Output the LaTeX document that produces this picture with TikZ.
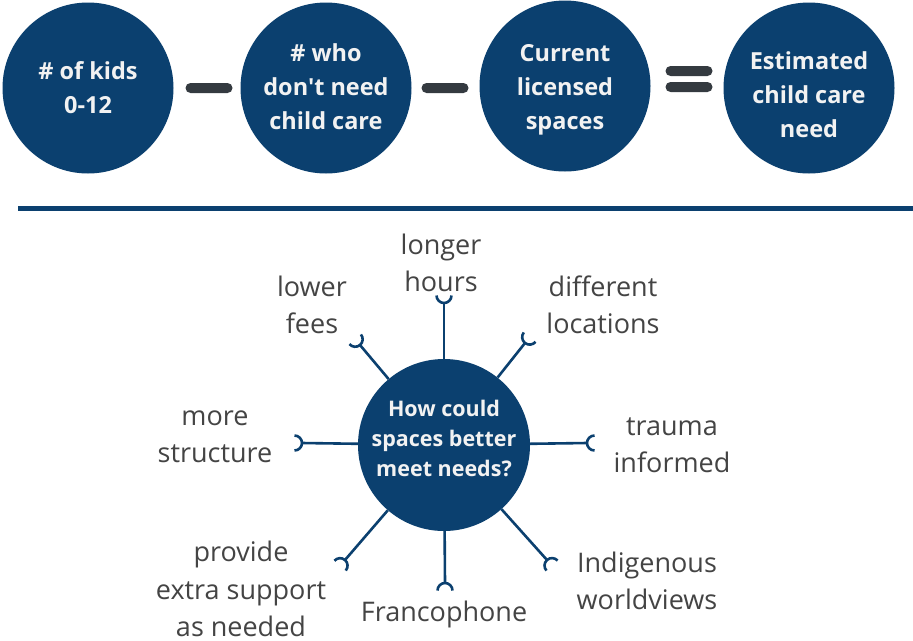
\documentclass[tikz,border=0pt]{standalone}
\usepackage{fontspec}
\newfontfamily\osans{Open Sans}
\setmainfont{Open Sans}
\usetikzlibrary{calc}
\definecolor{navy}{HTML}{0B406F}
\definecolor{opgray}{HTML}{343A40}
\definecolor{labgray}{HTML}{444444}
\definecolor{wtext}{HTML}{F2F2F2}
\tikzset{
  bigcircle/.style={circle, fill=navy, minimum size=171pt, inner sep=0pt},
  bigtext/.style={text=wtext, align=center, inner sep=0pt,
    font=\osans\fontsize{23.5}{34}\selectfont\bfseries},
  centercircle/.style={circle, fill=navy, minimum size=172pt, inner sep=0pt},
  centertext/.style={text=wtext, align=center, inner sep=0pt,
    font=\osans\fontsize{21.5}{30}\selectfont\bfseries},
  opbar/.style={rectangle, fill=opgray, minimum width=47pt, minimum height=10pt, inner sep=0pt, rounded corners=5pt},
  lab/.style={align=center, text=labgray, inner sep=0pt, font=\osans\fontsize{27}{37.5}\selectfont},
  spoke/.style={draw=navy, line width=2.6pt},
  cup/.pic={\draw[spoke] (7.5pt,7.5pt) arc[start angle=90,end angle=270,radius=7.5pt];}
}
\begin{document}
\begin{tikzpicture}[x=1pt,y=1pt]
\path[use as bounding box, fill=white] (0,0) rectangle (913,-640);
% top equation
\node[bigcircle] (c1) at (88,-88) {};
\node[bigcircle] (c2) at (326,-88) {};
\node[bigcircle] (c3) at (565,-86) {};
\node[bigcircle] (c4) at (809,-88) {};
\node[bigtext] (t1) at (c1.center) {\# of kids\\0-12};
\node[bigtext] (t2) at ([yshift=1pt]c2.center) {\# who\\don't need\\child care};
\node[bigtext] (t3) at ([yshift=-4pt]c3.center) {Current\\licensed\\spaces};
\node[bigtext] (t4) at ([yshift=-7pt]c4.center) {Estimated\\child care\\need};
\node[opbar] (m1) at (209,-88) {};
\node[opbar] (m2) at (445,-88) {};
\node[opbar] (eq1) at (689,-71) {};
\node[opbar] (eq2) at (689,-87) {};
% divider
\draw[navy, line width=5pt] (18,-208) -- (913,-208);
% center
\node[centercircle] (q) at (444,-445) {};
\node[centertext] (qt) at (444,-438) {How could\\spaces better\\meet needs?};
\coordinate (eT) at (444,-303);
\coordinate (eUR) at (525,-343);
\coordinate (eR) at (587,-443);
\coordinate (eLR) at (547,-560);
\coordinate (eB) at (445,-583);
\coordinate (eLL) at (345,-560);
\coordinate (eL) at (302,-443);
\coordinate (eUL) at (360,-345);
\foreach \e/\a in {eT/90, eUR/51.5, eR/0, eLR/-48, eB/-90, eLL/229, eL/180, eUL/130}{
  \draw[spoke] (q) -- (\e);
  \pic[rotate=\a] at (\e) {cup};
}
% labels
\node[lab] (lT) at (441,-263) {longer\\hours};
\node[lab] (lUL) at (312,-305) {lower\\fees};
\node[lab] (lUR) at (603,-305) {different\\locations};
\node[lab] (lL) at (215,-437) {more\\structure};
\node[lab] (lR) at (672,-445) {trauma\\informed};
\node[lab] (lLL) at (241,-589) {provide\\extra support\\as needed};
\node[lab] (lB) at (444,-614) {Francophone};
\node[lab] (lLR) at (647,-581) {Indigenous\\worldviews};
\end{tikzpicture}
\end{document}
